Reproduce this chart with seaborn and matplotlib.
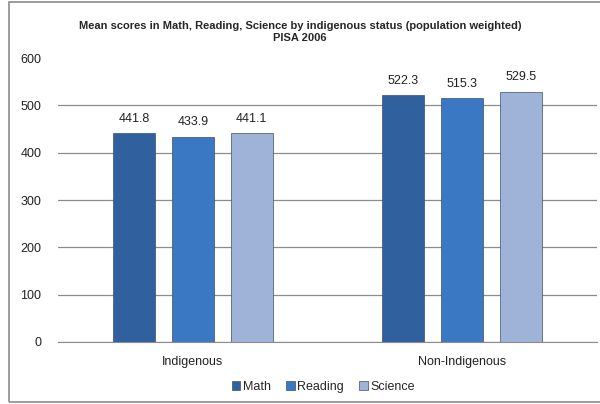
import pandas as pd
import seaborn as sns
import matplotlib.pyplot as plt
from matplotlib.patches import Rectangle

groups = ['Indigenous', 'Non-Indigenous']
subjects = ['Math', 'Reading', 'Science']
math = [441.8, 522.3]
reading = [433.9, 515.3]
science = [441.1, 529.5]

colors = ['#30609e', '#3b78c4', '#9fb3d8']

df = pd.DataFrame({
    'group': groups * 3,
    'subject': [s for s in subjects for _ in groups],
    'score': math + reading + science,
})

sns.set_style('white')
plt.rcParams['font.family'] = ['Liberation Sans', 'DejaVu Sans']

fig = plt.figure(figsize=(6, 4.04), dpi=100)
ax = fig.add_axes([0.0967, 0.1535, 0.8983, 0.7025])

sns.barplot(data=df, x='group', y='score', hue='subject', palette=colors,
            width=0.656, gap=0.29, edgecolor='#3a4f70', linewidth=0.5,
            saturation=1, ax=ax, legend=True)

for cont in ax.containers:
    ax.bar_label(cont, fmt='%.1f', padding=6, fontsize=9, color='#222222')

ax.set_ylim(0, 600)
ax.set_yticks(range(0, 601, 100))
ax.set_xlim(-0.5, 1.5)
ax.yaxis.grid(True, color='#8c8c8c', linewidth=0.9)
ax.set_axisbelow(True)
# no gridline at the top tick
fig.canvas.draw()
ax.yaxis.get_gridlines()[-1].set_visible(False)
for side in ['left', 'right', 'top']:
    ax.spines[side].set_visible(False)
ax.spines['bottom'].set_color('#8c8c8c')
ax.tick_params(axis='both', length=0, labelsize=9, colors='#222222')
ax.tick_params(axis='y', pad=12)
ax.tick_params(axis='x', pad=10)
ax.set_xlabel('')
ax.set_ylabel('')

ax.legend(loc='center', bbox_to_anchor=(0.492, -0.158), ncol=3, frameon=False,
          fontsize=9, handlelength=0.7, handleheight=0.7, handletextpad=0.2,
          columnspacing=1.2)

fig.text(0.5, 0.921, 'Mean scores in Math, Reading, Science by indigenous status (population weighted)\nPISA 2006',
         ha='center', va='center', fontsize=8, fontweight='bold', linespacing=1.2)

fig.patches.append(Rectangle((0.015, 0.004), 1.2, 0.99, transform=fig.transFigure,
                             fill=False, edgecolor='#8c8c8c', linewidth=1.2))

fig.savefig('out.png', dpi=100)
